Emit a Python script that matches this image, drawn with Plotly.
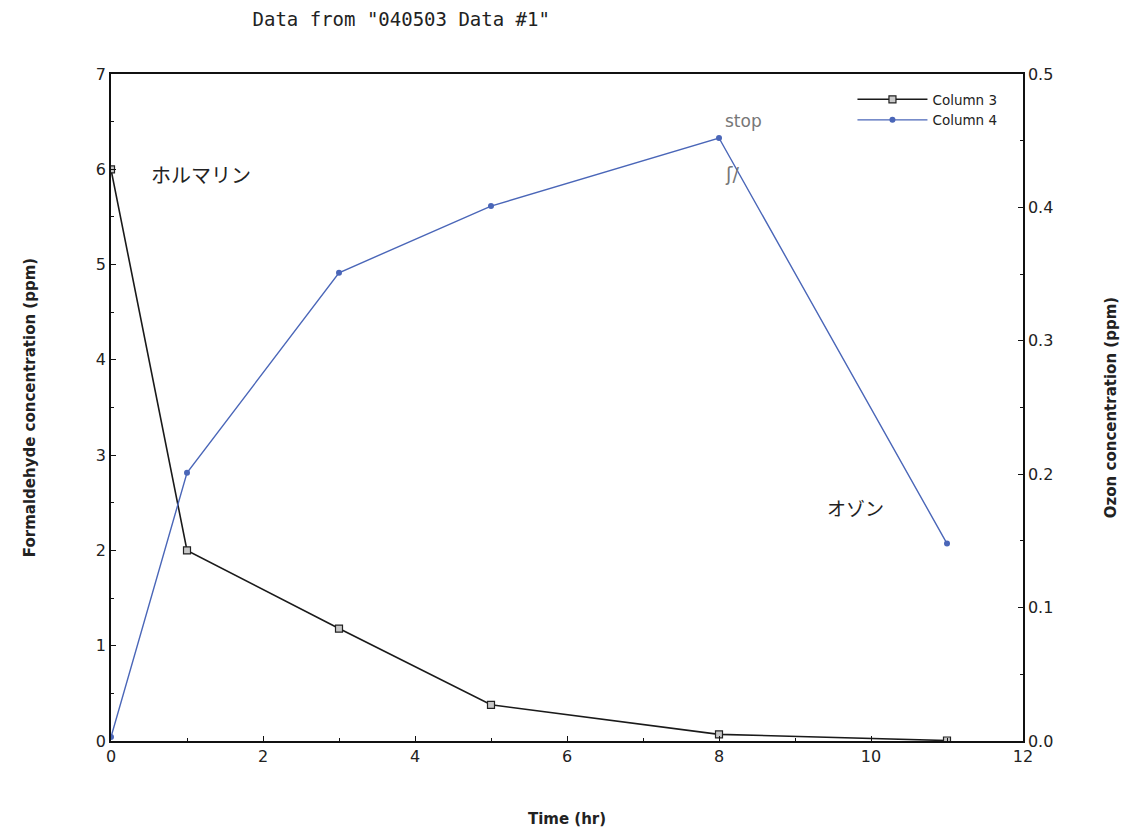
import plotly.graph_objects as go

time_hr = [0, 1, 3, 5, 8, 11]
formaldehyde = [6.0, 2.0, 1.18, 0.38, 0.07, 0.005]
ozone = [0.003, 0.201, 0.351, 0.401, 0.452, 0.148]

x_ticks = [0, 2, 4, 6, 8, 10, 12]
y1_ticks = [0, 1, 2, 3, 4, 5, 6, 7]
y2_ticks = [0.0, 0.1, 0.2, 0.3, 0.4, 0.5]

FONT = "DejaVu Sans"
fig = go.Figure()
fig.add_trace(go.Scatter(
    x=time_hr, y=formaldehyde, name="Column 3", mode="lines+markers",
    line=dict(color="#1a1a1a", width=1.6),
    marker=dict(symbol="square", size=7, color="#c8c8c8", line=dict(color="#222", width=1.2)),
))
fig.add_trace(go.Scatter(
    x=time_hr, y=ozone, name="Column 4", mode="lines+markers", yaxis="y2",
    line=dict(color="#4a66b8", width=1.4),
    marker=dict(symbol="circle", size=6, color="#4a66b8"),
))

axis_common = dict(showline=True, linecolor="#111", linewidth=1.5, ticks="inside",
                   ticklen=5, tickcolor="#111", showgrid=False, zeroline=False, automargin=False,
                   tickfont=dict(family=FONT, size=16, color="#222"))
title_font = dict(family=FONT, size=15, color="#222")
fig.update_layout(
    width=1130, height=835,
    paper_bgcolor="white", plot_bgcolor="white",
    margin=dict(l=103, r=115, t=66, b=102),
    showlegend=True,
    legend=dict(x=0.813, y=0.985, xanchor="left", yanchor="top", bgcolor="rgba(0,0,0,0)",
                font=dict(family=FONT, size=13.5, color="#222"), itemwidth=70),
    title=dict(text='Data from "040503 Data #1"', x=0.348, xanchor="center", y=0.994, yanchor="top",
               font=dict(family="DejaVu Sans Mono", size=19, color="#222")),
    xaxis=dict(range=[0, 12], tickvals=x_ticks, mirror=True,
               minor=dict(ticks="inside", ticklen=3, dtick=1, tickcolor="#111"),
               title=dict(text="<b>Time (hr)</b>", font=title_font, standoff=49),
               **axis_common),
    yaxis=dict(range=[0, 7], tickvals=y1_ticks,
               minor=dict(ticks="inside", ticklen=3, dtick=0.5, tickcolor="#111"),
               title=dict(text="<b>Formaldehyde concentration (ppm)</b>", font=title_font, standoff=57),
               **axis_common),
    yaxis2=dict(range=[0, 0.5], tickvals=y2_ticks, tickformat=".1f", overlaying="y", side="right",
                minor=dict(ticks="inside", ticklen=3, dtick=0.05, tickcolor="#111"),
                title=dict(text="<b>Ozon concentration (ppm)</b>", font=title_font, standoff=53),
                **axis_common),
)
fig.add_annotation(x=0.5, y=5.95, text="ホルマリン", showarrow=False, xanchor="left",
                   font=dict(family="Noto Sans CJK JP", size=20, color="#222"))
fig.add_annotation(x=9.4, y=0.175, yref="y2", text="オゾン", showarrow=False, xanchor="left",
                   font=dict(family="Noto Sans CJK JP", size=19, color="#222"))
fig.add_annotation(x=8.05, y=0.465, yref="y2", text="stop", showarrow=False, xanchor="left",
                   font=dict(family="DejaVu Sans", size=17, color="#777"))
fig.add_annotation(x=8.05, y=0.425, yref="y2", text="ʃ/", showarrow=False, xanchor="left",
                   font=dict(family="DejaVu Sans", size=19, color="#777"))
fig.write_html("out.html")
